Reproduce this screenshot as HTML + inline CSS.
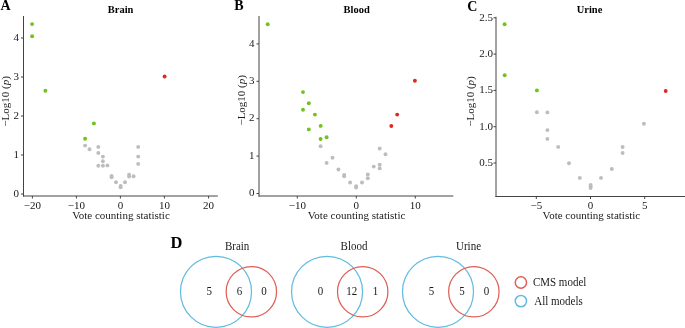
<!DOCTYPE html>
<html><head><meta charset="utf-8"><style>
html,body{margin:0;padding:0;background:#fff;}
body{width:685px;height:328px;overflow:hidden;}
svg{display:block;font-family:"Liberation Serif",serif;}
</style></head><body>
<svg width="685" height="328" viewBox="0 0 685 328">
<defs><filter id="soft" x="0" y="0" width="1" height="1"><feOffset dx="0" dy="0"/></filter></defs>
<rect width="685" height="328" fill="#fff"/>
<g filter="url(#soft)">
<rect width="685" height="328" fill="#fff"/>
<text x="0.5" y="9.8" text-anchor="start" font-size="14" font-weight="bold" fill="#000" >A</text>
<text x="120.6" y="13" text-anchor="middle" font-size="11.4" font-weight="bold" fill="#000" textLength="25.6" lengthAdjust="spacingAndGlyphs">Brain</text>
<line x1="23.5" y1="16" x2="23.5" y2="196.5" stroke="#444" stroke-width="1"/>
<line x1="23.0" y1="196" x2="217.8" y2="196" stroke="#444" stroke-width="1"/>
<line x1="21.0" y1="194" x2="23.5" y2="194" stroke="#444" stroke-width="1"/>
<text x="19.0" y="196.7" text-anchor="end" font-size="11" font-weight="normal" fill="#1a1a1a" >0</text>
<line x1="21.0" y1="155" x2="23.5" y2="155" stroke="#444" stroke-width="1"/>
<text x="19.0" y="157.7" text-anchor="end" font-size="11" font-weight="normal" fill="#1a1a1a" >1</text>
<line x1="21.0" y1="116" x2="23.5" y2="116" stroke="#444" stroke-width="1"/>
<text x="19.0" y="118.7" text-anchor="end" font-size="11" font-weight="normal" fill="#1a1a1a" >2</text>
<line x1="21.0" y1="77" x2="23.5" y2="77" stroke="#444" stroke-width="1"/>
<text x="19.0" y="79.7" text-anchor="end" font-size="11" font-weight="normal" fill="#1a1a1a" >3</text>
<line x1="21.0" y1="38" x2="23.5" y2="38" stroke="#444" stroke-width="1"/>
<text x="19.0" y="40.7" text-anchor="end" font-size="11" font-weight="normal" fill="#1a1a1a" >4</text>
<line x1="32.4" y1="196" x2="32.4" y2="198.5" stroke="#444" stroke-width="1"/>
<text x="32.4" y="208.5" text-anchor="middle" font-size="11" font-weight="normal" fill="#1a1a1a" >−20</text>
<line x1="76.4" y1="196" x2="76.4" y2="198.5" stroke="#444" stroke-width="1"/>
<text x="76.4" y="208.5" text-anchor="middle" font-size="11" font-weight="normal" fill="#1a1a1a" >−10</text>
<line x1="120.4" y1="196" x2="120.4" y2="198.5" stroke="#444" stroke-width="1"/>
<text x="120.4" y="208.5" text-anchor="middle" font-size="11" font-weight="normal" fill="#1a1a1a" >0</text>
<line x1="164.4" y1="196" x2="164.4" y2="198.5" stroke="#444" stroke-width="1"/>
<text x="164.4" y="208.5" text-anchor="middle" font-size="11" font-weight="normal" fill="#1a1a1a" >10</text>
<line x1="208.6" y1="196" x2="208.6" y2="198.5" stroke="#444" stroke-width="1"/>
<text x="208.6" y="208.5" text-anchor="middle" font-size="11" font-weight="normal" fill="#1a1a1a" >20</text>
<text transform="translate(8.7,101.4) rotate(-90) scale(1.0000,1)" text-anchor="middle" font-size="11.00" fill="#1a1a1a">−Log10 (<tspan font-style="italic">p</tspan>)</text>
<text x="121" y="219" text-anchor="middle" font-size="11" font-weight="normal" fill="#1a1a1a" >Vote counting statistic</text>
<circle cx="85.1" cy="145.6" r="1.95" fill="#bdbdbd"/>
<circle cx="89.5" cy="149.3" r="1.95" fill="#bdbdbd"/>
<circle cx="98.3" cy="146.9" r="1.95" fill="#bdbdbd"/>
<circle cx="98.3" cy="152.9" r="1.95" fill="#bdbdbd"/>
<circle cx="102.9" cy="156.6" r="1.95" fill="#bdbdbd"/>
<circle cx="102.9" cy="161.2" r="1.95" fill="#bdbdbd"/>
<circle cx="98.3" cy="165.7" r="1.95" fill="#bdbdbd"/>
<circle cx="102.9" cy="165.7" r="1.95" fill="#bdbdbd"/>
<circle cx="107.4" cy="165.4" r="1.95" fill="#bdbdbd"/>
<circle cx="111.6" cy="175.9" r="1.95" fill="#bdbdbd"/>
<circle cx="111.6" cy="177.2" r="1.95" fill="#bdbdbd"/>
<circle cx="116" cy="182.2" r="1.95" fill="#bdbdbd"/>
<circle cx="120.6" cy="186" r="1.95" fill="#bdbdbd"/>
<circle cx="120.6" cy="187.3" r="1.95" fill="#bdbdbd"/>
<circle cx="125" cy="182.2" r="1.95" fill="#bdbdbd"/>
<circle cx="129.1" cy="174.6" r="1.95" fill="#bdbdbd"/>
<circle cx="129.1" cy="176.5" r="1.95" fill="#bdbdbd"/>
<circle cx="133.6" cy="176.2" r="1.95" fill="#bdbdbd"/>
<circle cx="138.2" cy="146.9" r="1.95" fill="#bdbdbd"/>
<circle cx="138.2" cy="156.6" r="1.95" fill="#bdbdbd"/>
<circle cx="138.2" cy="163.9" r="1.95" fill="#bdbdbd"/>
<circle cx="32.1" cy="24.1" r="1.95" fill="#70c31a"/>
<circle cx="32.1" cy="36.2" r="1.95" fill="#70c31a"/>
<circle cx="45.4" cy="90.7" r="1.95" fill="#70c31a"/>
<circle cx="93.9" cy="123.4" r="1.95" fill="#70c31a"/>
<circle cx="85.1" cy="138.8" r="1.95" fill="#70c31a"/>
<circle cx="164.6" cy="76.5" r="1.95" fill="#dc2a1e"/>
<text x="234.3" y="10" text-anchor="start" font-size="14" font-weight="bold" fill="#000" >B</text>
<text x="356.7" y="13" text-anchor="middle" font-size="11.4" font-weight="bold" fill="#000" textLength="26.2" lengthAdjust="spacingAndGlyphs">Blood</text>
<line x1="259" y1="16" x2="259" y2="196.5" stroke="#444" stroke-width="1"/>
<line x1="258.5" y1="196" x2="453.3" y2="196" stroke="#444" stroke-width="1"/>
<line x1="256.5" y1="193.5" x2="259" y2="193.5" stroke="#444" stroke-width="1"/>
<text x="254.5" y="196.2" text-anchor="end" font-size="11" font-weight="normal" fill="#1a1a1a" >0</text>
<line x1="256.5" y1="156.1" x2="259" y2="156.1" stroke="#444" stroke-width="1"/>
<text x="254.5" y="158.79999999999998" text-anchor="end" font-size="11" font-weight="normal" fill="#1a1a1a" >1</text>
<line x1="256.5" y1="118.7" x2="259" y2="118.7" stroke="#444" stroke-width="1"/>
<text x="254.5" y="121.4" text-anchor="end" font-size="11" font-weight="normal" fill="#1a1a1a" >2</text>
<line x1="256.5" y1="81.3" x2="259" y2="81.3" stroke="#444" stroke-width="1"/>
<text x="254.5" y="84.0" text-anchor="end" font-size="11" font-weight="normal" fill="#1a1a1a" >3</text>
<line x1="256.5" y1="43.9" x2="259" y2="43.9" stroke="#444" stroke-width="1"/>
<text x="254.5" y="46.6" text-anchor="end" font-size="11" font-weight="normal" fill="#1a1a1a" >4</text>
<line x1="297.3" y1="196" x2="297.3" y2="198.5" stroke="#444" stroke-width="1"/>
<text x="297.3" y="208.5" text-anchor="middle" font-size="11" font-weight="normal" fill="#1a1a1a" >−10</text>
<line x1="356.3" y1="196" x2="356.3" y2="198.5" stroke="#444" stroke-width="1"/>
<text x="356.3" y="208.5" text-anchor="middle" font-size="11" font-weight="normal" fill="#1a1a1a" >0</text>
<line x1="415.3" y1="196" x2="415.3" y2="198.5" stroke="#444" stroke-width="1"/>
<text x="415.3" y="208.5" text-anchor="middle" font-size="11" font-weight="normal" fill="#1a1a1a" >10</text>
<text transform="translate(244.8,100.3) rotate(-90) scale(1.0000,1)" text-anchor="middle" font-size="11.00" fill="#1a1a1a">−Log10 (<tspan font-style="italic">p</tspan>)</text>
<text x="356.6" y="219" text-anchor="middle" font-size="11" font-weight="normal" fill="#1a1a1a" >Vote counting statistic</text>
<circle cx="320.6" cy="146.3" r="1.95" fill="#bdbdbd"/>
<circle cx="326.6" cy="162.9" r="1.95" fill="#bdbdbd"/>
<circle cx="332.5" cy="157.8" r="1.95" fill="#bdbdbd"/>
<circle cx="338.4" cy="169.5" r="1.95" fill="#bdbdbd"/>
<circle cx="344.2" cy="175.0" r="1.95" fill="#bdbdbd"/>
<circle cx="344.2" cy="176.3" r="1.95" fill="#bdbdbd"/>
<circle cx="350.1" cy="182.5" r="1.95" fill="#bdbdbd"/>
<circle cx="356.1" cy="186.1" r="1.95" fill="#bdbdbd"/>
<circle cx="356.1" cy="187.6" r="1.95" fill="#bdbdbd"/>
<circle cx="362" cy="182.5" r="1.95" fill="#bdbdbd"/>
<circle cx="367.8" cy="174.4" r="1.95" fill="#bdbdbd"/>
<circle cx="367.8" cy="178.3" r="1.95" fill="#bdbdbd"/>
<circle cx="373.7" cy="166.6" r="1.95" fill="#bdbdbd"/>
<circle cx="379.7" cy="148.5" r="1.95" fill="#bdbdbd"/>
<circle cx="379.7" cy="164.8" r="1.95" fill="#bdbdbd"/>
<circle cx="379.7" cy="168.4" r="1.95" fill="#bdbdbd"/>
<circle cx="385.5" cy="154.3" r="1.95" fill="#bdbdbd"/>
<circle cx="267.7" cy="24.2" r="1.95" fill="#70c31a"/>
<circle cx="303" cy="92.1" r="1.95" fill="#70c31a"/>
<circle cx="303" cy="109.8" r="1.95" fill="#70c31a"/>
<circle cx="308.8" cy="103.2" r="1.95" fill="#70c31a"/>
<circle cx="308.8" cy="129.4" r="1.95" fill="#70c31a"/>
<circle cx="314.9" cy="114.6" r="1.95" fill="#70c31a"/>
<circle cx="320.7" cy="125.9" r="1.95" fill="#70c31a"/>
<circle cx="320.6" cy="139" r="1.95" fill="#70c31a"/>
<circle cx="326.6" cy="137.3" r="1.95" fill="#70c31a"/>
<circle cx="391.3" cy="126" r="1.95" fill="#dc2a1e"/>
<circle cx="397.2" cy="114.6" r="1.95" fill="#dc2a1e"/>
<circle cx="414.9" cy="80.7" r="1.95" fill="#dc2a1e"/>
<text x="467.2" y="10.8" text-anchor="start" font-size="14" font-weight="bold" fill="#000" >C</text>
<text x="589.5" y="13" text-anchor="middle" font-size="11.4" font-weight="bold" fill="#000" textLength="25.6" lengthAdjust="spacingAndGlyphs">Urine</text>
<line x1="496" y1="16.8" x2="496" y2="197.0" stroke="#444" stroke-width="1"/>
<line x1="495.5" y1="196.5" x2="685" y2="196.5" stroke="#444" stroke-width="1"/>
<line x1="493.5" y1="163" x2="496" y2="163" stroke="#444" stroke-width="1"/>
<text x="492.9" y="165.8" text-anchor="end" font-size="11" font-weight="normal" fill="#1a1a1a" >0.5</text>
<line x1="493.5" y1="126.7" x2="496" y2="126.7" stroke="#444" stroke-width="1"/>
<text x="492.9" y="129.5" text-anchor="end" font-size="11" font-weight="normal" fill="#1a1a1a" >1.0</text>
<line x1="493.5" y1="90.4" x2="496" y2="90.4" stroke="#444" stroke-width="1"/>
<text x="492.9" y="93.2" text-anchor="end" font-size="11" font-weight="normal" fill="#1a1a1a" >1.5</text>
<line x1="493.5" y1="54.1" x2="496" y2="54.1" stroke="#444" stroke-width="1"/>
<text x="492.9" y="56.9" text-anchor="end" font-size="11" font-weight="normal" fill="#1a1a1a" >2.0</text>
<line x1="493.5" y1="17.8" x2="496" y2="17.8" stroke="#444" stroke-width="1"/>
<text x="492.9" y="20.6" text-anchor="end" font-size="11" font-weight="normal" fill="#1a1a1a" >2.5</text>
<line x1="536.3" y1="196.5" x2="536.3" y2="199.0" stroke="#444" stroke-width="1"/>
<text x="536.3" y="208.5" text-anchor="middle" font-size="11" font-weight="normal" fill="#1a1a1a" >−5</text>
<line x1="590.5" y1="196.5" x2="590.5" y2="199.0" stroke="#444" stroke-width="1"/>
<text x="590.5" y="208.5" text-anchor="middle" font-size="11" font-weight="normal" fill="#1a1a1a" >0</text>
<line x1="644.7" y1="196.5" x2="644.7" y2="199.0" stroke="#444" stroke-width="1"/>
<text x="644.7" y="208.5" text-anchor="middle" font-size="11" font-weight="normal" fill="#1a1a1a" >5</text>
<text transform="translate(474.3,101.5) rotate(-90) scale(1.0000,1)" text-anchor="middle" font-size="11.00" fill="#1a1a1a">−Log10 (<tspan font-style="italic">p</tspan>)</text>
<text x="591.4" y="219" text-anchor="middle" font-size="11" font-weight="normal" fill="#1a1a1a" >Vote counting statistic</text>
<circle cx="536.9" cy="112.3" r="1.95" fill="#bdbdbd"/>
<circle cx="547.4" cy="112.4" r="1.95" fill="#bdbdbd"/>
<circle cx="547.4" cy="130.1" r="1.95" fill="#bdbdbd"/>
<circle cx="547.4" cy="138.9" r="1.95" fill="#bdbdbd"/>
<circle cx="558.2" cy="146.9" r="1.95" fill="#bdbdbd"/>
<circle cx="569" cy="163.2" r="1.95" fill="#bdbdbd"/>
<circle cx="579.8" cy="177.9" r="1.95" fill="#bdbdbd"/>
<circle cx="590.6" cy="185" r="1.95" fill="#bdbdbd"/>
<circle cx="590.6" cy="186.5" r="1.95" fill="#bdbdbd"/>
<circle cx="590.6" cy="188" r="1.95" fill="#bdbdbd"/>
<circle cx="601" cy="177.9" r="1.95" fill="#bdbdbd"/>
<circle cx="611.8" cy="169" r="1.95" fill="#bdbdbd"/>
<circle cx="622.6" cy="147" r="1.95" fill="#bdbdbd"/>
<circle cx="622.6" cy="153" r="1.95" fill="#bdbdbd"/>
<circle cx="643.9" cy="123.7" r="1.95" fill="#bdbdbd"/>
<circle cx="504.6" cy="24.3" r="1.95" fill="#70c31a"/>
<circle cx="504.7" cy="75.2" r="1.95" fill="#70c31a"/>
<circle cx="536.9" cy="90.4" r="1.95" fill="#70c31a"/>
<circle cx="665.7" cy="91" r="1.95" fill="#dc2a1e"/>
<text x="170.5" y="247.9" text-anchor="start" font-size="16.5" font-weight="bold" fill="#000" >D</text>
<circle cx="216.0" cy="291.75" r="35.5" fill="none" stroke="#62bce0" stroke-width="1.25"/>
<circle cx="251.35" cy="291.75" r="25.2" fill="none" stroke="#df5f55" stroke-width="1.25"/>
<text transform="translate(237.1,250) scale(0.9174,1)" text-anchor="middle" font-size="11.99" font-weight="normal" fill="#1a1a1a" >Brain</text>
<text transform="translate(209.2,294.6) scale(0.9174,1)" text-anchor="middle" font-size="11.99" font-weight="normal" fill="#1a1a1a" >5</text>
<text transform="translate(239.6,294.6) scale(0.9174,1)" text-anchor="middle" font-size="11.99" font-weight="normal" fill="#1a1a1a" >6</text>
<text transform="translate(264.1,294.6) scale(0.9174,1)" text-anchor="middle" font-size="11.99" font-weight="normal" fill="#1a1a1a" >0</text>
<circle cx="327.05" cy="291.75" r="35.5" fill="none" stroke="#62bce0" stroke-width="1.25"/>
<circle cx="362.7" cy="291.75" r="25.2" fill="none" stroke="#df5f55" stroke-width="1.25"/>
<text transform="translate(354.0,250) scale(0.9174,1)" text-anchor="middle" font-size="11.99" font-weight="normal" fill="#1a1a1a" >Blood</text>
<text transform="translate(320.6,294.6) scale(0.9174,1)" text-anchor="middle" font-size="11.99" font-weight="normal" fill="#1a1a1a" >0</text>
<text transform="translate(351.7,294.6) scale(0.9174,1)" text-anchor="middle" font-size="11.99" font-weight="normal" fill="#1a1a1a" >12</text>
<text transform="translate(375.5,294.6) scale(0.9174,1)" text-anchor="middle" font-size="11.99" font-weight="normal" fill="#1a1a1a" >1</text>
<circle cx="438.0" cy="291.75" r="35.5" fill="none" stroke="#62bce0" stroke-width="1.25"/>
<circle cx="473.85" cy="291.75" r="25.2" fill="none" stroke="#df5f55" stroke-width="1.25"/>
<text transform="translate(468.5,250) scale(0.9174,1)" text-anchor="middle" font-size="11.99" font-weight="normal" fill="#1a1a1a" >Urine</text>
<text transform="translate(431.6,294.6) scale(0.9174,1)" text-anchor="middle" font-size="11.99" font-weight="normal" fill="#1a1a1a" >5</text>
<text transform="translate(462.0,294.6) scale(0.9174,1)" text-anchor="middle" font-size="11.99" font-weight="normal" fill="#1a1a1a" >5</text>
<text transform="translate(486.4,294.6) scale(0.9174,1)" text-anchor="middle" font-size="11.99" font-weight="normal" fill="#1a1a1a" >0</text>
<circle cx="520.9" cy="282.5" r="5.65" fill="none" stroke="#df5f55" stroke-width="1.5"/>
<circle cx="520.9" cy="301.1" r="5.65" fill="none" stroke="#62bce0" stroke-width="1.5"/>
<text transform="translate(532.9,285.6) scale(0.9174,1)" text-anchor="start" font-size="11.99" font-weight="normal" fill="#1a1a1a" >CMS model</text>
<text transform="translate(534.2,305) scale(0.9174,1)" text-anchor="start" font-size="11.99" font-weight="normal" fill="#1a1a1a" >All models</text>
</g>
</svg>
</body></html>
